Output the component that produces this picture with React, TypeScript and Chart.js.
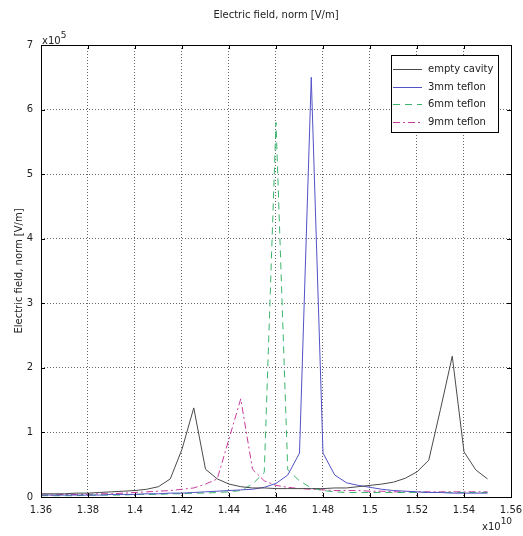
import React, { useEffect, useRef } from "react";
import { Chart, registerables } from "chart.js";

Chart.register(...registerables);

const FONT = "'DejaVu Sans', Verdana, sans-serif";

const titleText = "Electric field, norm [V/m]";
const yAxisTitle = "Electric field, norm [V/m]";
const seriesNames = ["empty cavity", "3mm teflon", "6mm teflon", "9mm teflon"];

// frequency in units of 1e10 Hz
const frequency = [
  1.36, 1.365, 1.37, 1.375, 1.38, 1.385, 1.39, 1.395, 1.4, 1.405,
  1.41, 1.415, 1.42, 1.425, 1.43, 1.435, 1.44, 1.445, 1.45, 1.455,
  1.46, 1.465, 1.47, 1.475, 1.48, 1.485, 1.49, 1.495, 1.5, 1.505,
  1.51, 1.515, 1.52, 1.525, 1.53, 1.535, 1.54, 1.545, 1.55,
];

// field values in units of 1e5 V/m
const emptyCavity = [
  0.05, 0.05, 0.05, 0.06, 0.06, 0.07, 0.08, 0.09, 0.1, 0.12,
  0.16, 0.28, 0.74, 1.38, 0.43, 0.28, 0.2, 0.16, 0.14, 0.14,
  0.13, 0.13, 0.13, 0.13, 0.13, 0.14, 0.14, 0.16, 0.18, 0.2,
  0.23, 0.29, 0.39, 0.57, 1.36, 2.18, 0.7, 0.42, 0.28,
];
const teflon3mm = [
  0.03, 0.03, 0.03, 0.03, 0.03, 0.03, 0.04, 0.04, 0.04, 0.05,
  0.05, 0.06, 0.06, 0.07, 0.08, 0.09, 0.1, 0.11, 0.12, 0.15,
  0.21, 0.34, 0.68, 6.5, 0.68, 0.34, 0.22, 0.18, 0.15, 0.12,
  0.1, 0.09, 0.08, 0.07, 0.07, 0.06, 0.06, 0.06, 0.06,
];
const teflon6mm = [
  0.02, 0.02, 0.02, 0.02, 0.03, 0.03, 0.03, 0.03, 0.04, 0.04,
  0.04, 0.05, 0.05, 0.06, 0.06, 0.07, 0.08, 0.1, 0.2, 0.38,
  5.8, 0.42, 0.25, 0.14, 0.1, 0.08, 0.07, 0.07, 0.07, 0.07,
  0.07, 0.07, 0.07, 0.07, 0.07, 0.07, 0.07, 0.07, 0.07,
];
const teflon9mm = [
  0.03, 0.03, 0.04, 0.04, 0.04, 0.05, 0.05, 0.06, 0.07, 0.08,
  0.09, 0.1, 0.12, 0.14, 0.2, 0.28, 0.9, 1.52, 0.43, 0.25,
  0.18, 0.15, 0.13, 0.12, 0.11, 0.1, 0.1, 0.1, 0.09, 0.09,
  0.08, 0.08, 0.08, 0.08, 0.08, 0.08, 0.08, 0.08, 0.08,
];

const xTicks = [1.36, 1.38, 1.4, 1.42, 1.44, 1.46, 1.48, 1.5, 1.52, 1.54, 1.56];
const yTicks = [0, 1, 2, 3, 4, 5, 6, 7];

const colors = ["#4a4a4a", "#5252c6", "#3cb46e", "#c83a9c"];
const dashes: number[][] = [[], [], [7, 5], [7, 3, 2, 3]];
const seriesValues = [emptyCavity, teflon3mm, teflon6mm, teflon9mm];

const decorPlugin = {
  id: "decor",
  afterDraw(chart: any) {
    const { ctx, chartArea } = chart;
    const { left, right, top, bottom } = chartArea;
    const xs = chart.scales.x;
    const ys = chart.scales.y;
    ctx.save();
    // frame
    ctx.setLineDash([]);
    ctx.strokeStyle = "#000";
    ctx.lineWidth = 1;
    ctx.strokeRect(Math.round(left) + 0.5, Math.round(top) + 0.5, Math.round(right - left), Math.round(bottom - top));
    // inward ticks
    ctx.beginPath();
    xTicks.forEach((v) => {
      const px = Math.round(xs.getPixelForValue(v)) + 0.5;
      ctx.moveTo(px, bottom);
      ctx.lineTo(px, bottom - 4);
      ctx.moveTo(px, top);
      ctx.lineTo(px, top + 4);
    });
    yTicks.forEach((v) => {
      const py = Math.round(ys.getPixelForValue(v)) + 0.5;
      ctx.moveTo(left, py);
      ctx.lineTo(left + 4, py);
      ctx.moveTo(right, py);
      ctx.lineTo(right - 4, py);
    });
    ctx.stroke();

    ctx.fillStyle = "#222";
    // title
    ctx.font = `10px ${FONT}`;
    ctx.textAlign = "center";
    ctx.textBaseline = "middle";
    ctx.fillText(titleText, (left + right) / 2, 15);
    // y axis title
    ctx.save();
    ctx.translate(19, (top + bottom) / 2);
    ctx.rotate(-Math.PI / 2);
    ctx.fillText(yAxisTitle, 0, 0);
    ctx.restore();
    // exponents
    ctx.textAlign = "left";
    ctx.textBaseline = "alphabetic";
    ctx.font = `10px ${FONT}`;
    ctx.fillText("x10", left + 1, top - 1);
    const w1 = ctx.measureText("x10").width;
    ctx.font = `9px ${FONT}`;
    ctx.fillText("5", left + 1 + w1, top - 7);
    ctx.font = `10px ${FONT}`;
    ctx.fillText("x10", 482, 530);
    const w2 = ctx.measureText("x10").width;
    ctx.font = `9px ${FONT}`;
    ctx.fillText("10", 482 + w2, 524);

    // legend
    const lx = 391, ly = 55, lw = 107, lh = 77;
    ctx.fillStyle = "#fff";
    ctx.fillRect(lx, ly, lw, lh);
    ctx.strokeStyle = "#000";
    ctx.lineWidth = 1;
    ctx.strokeRect(lx + 0.5, ly + 0.5, lw, lh);
    ctx.font = `10px ${FONT}`;
    ctx.textBaseline = "middle";
    seriesNames.forEach((name, i) => {
      const yy = Math.round(69 + i * 17.5) + 0.5;
      ctx.strokeStyle = colors[i];
      ctx.setLineDash(dashes[i]);
      ctx.beginPath();
      ctx.moveTo(393, yy);
      ctx.lineTo(422, yy);
      ctx.stroke();
      ctx.setLineDash([]);
      ctx.fillStyle = "#222";
      ctx.fillText(name, 428, yy);
    });
    ctx.restore();
  },
};

export default function App() {
  const ref = useRef<HTMLCanvasElement | null>(null);
  useEffect(() => {
    if (!ref.current) return;
    const datasets = seriesNames.map((name, i) => ({
      label: name,
      data: frequency.map((f, j) => ({ x: f, y: seriesValues[i][j] })),
      borderColor: colors[i],
      backgroundColor: colors[i],
      borderWidth: 1,
      borderDash: dashes[i],
      pointRadius: 0,
      tension: 0,
      fill: false,
    }));
    const chart = new Chart(ref.current, {
      type: "line",
      data: { datasets },
      options: {
        responsive: false,
        animation: false,
        devicePixelRatio: 1,
        layout: { padding: { left: 0, top: 45, right: 12, bottom: 0 } },
        plugins: {
          legend: { display: false },
          tooltip: { enabled: false },
          title: { display: false },
        },
        scales: {
          x: {
            type: "linear",
            min: 1.36,
            max: 1.56,
            afterFit: (s: any) => {
              s.height = 39;
              s.paddingLeft = 0;
              s.paddingRight = 0;
            },
            afterBuildTicks: (s: any) => { s.ticks = xTicks.map((v) => ({ value: v })); },
            ticks: {
              padding: 7,
              color: "#222",
              font: { family: FONT, size: 10 },
              maxRotation: 0,
              autoSkip: false,
              callback: (v: any) => String(Number(Number(v).toFixed(2))),
            },
            grid: { color: "#666", drawTicks: false, lineWidth: 1 },
            border: { display: false, dash: [1, 2] },
          },
          y: {
            type: "linear",
            min: 0,
            max: 7,
            afterFit: (s: any) => {
              s.width = 41;
              s.paddingTop = 0;
              s.paddingBottom = 0;
            },
            afterBuildTicks: (s: any) => { s.ticks = yTicks.map((v) => ({ value: v })); },
            ticks: {
              padding: 8,
              color: "#222",
              font: { family: FONT, size: 10 },
              callback: (v: any) => String(v),
            },
            grid: { color: "#666", drawTicks: false, lineWidth: 1 },
            border: { display: false, dash: [1, 2] },
          },
        },
      },
      plugins: [decorPlugin],
    });
    return () => chart.destroy();
  }, []);
  return (
    <div style={{ position: "fixed", left: 0, top: 0, width: 523, height: 536, background: "#fff" }}>
      <canvas ref={ref} width={523} height={536} style={{ width: 523, height: 536, display: "block" }} />
    </div>
  );
}
